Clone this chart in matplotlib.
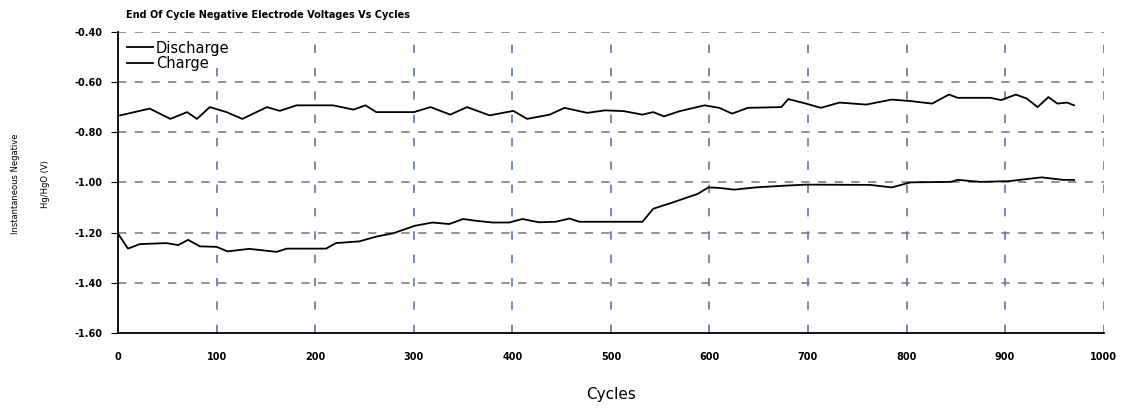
import numpy as np
import matplotlib.pyplot as plt

# Datos
ciclos_sup = [2, 32, 53, 70, 80, 93, 110, 126, 151, 164, 181, 201, 218, 239, 251, 262,
              300, 317, 337, 354, 377, 401, 415, 438, 453, 476, 494, 513, 532, 543, 554,
              569, 595, 610, 623, 639, 673, 680, 698, 713, 732, 759, 785, 804, 826, 843,
              852, 885, 896, 911, 922, 933, 944, 953, 963, 970]
volt_sup = [-0.733, -0.706, -0.747, -0.720, -0.747, -0.700, -0.720, -0.747, -0.700, -0.715,
            -0.693, -0.693, -0.693, -0.710, -0.693, -0.720, -0.720, -0.700, -0.730, -0.700,
            -0.733, -0.715, -0.747, -0.730, -0.703, -0.723, -0.713, -0.716, -0.730, -0.720,
            -0.737, -0.717, -0.693, -0.703, -0.726, -0.703, -0.700, -0.668, -0.686, -0.703,
            -0.682, -0.690, -0.670, -0.676, -0.686, -0.650, -0.663, -0.663, -0.672, -0.650,
            -0.666, -0.700, -0.660, -0.686, -0.682, -0.693]

ciclos_inf = [0, 10, 22, 49, 61, 71, 83, 100, 111, 133, 161, 171, 211, 221, 245, 262,
              279, 301, 319, 336, 350, 363, 380, 397, 410, 427, 444, 458, 468, 488, 532,
              543, 562, 588, 599, 610, 625, 647, 677, 698, 763, 785, 804, 845, 852, 875,
              904, 937, 959, 970]
volt_inf = [-1.205, -1.264, -1.246, -1.242, -1.250, -1.229, -1.255, -1.257, -1.275, -1.265,
            -1.277, -1.264, -1.264, -1.242, -1.235, -1.216, -1.203, -1.173, -1.160, -1.166,
            -1.146, -1.153, -1.160, -1.160, -1.146, -1.159, -1.157, -1.144, -1.157, -1.157,
            -1.157, -1.105, -1.081, -1.046, -1.020, -1.022, -1.029, -1.020, -1.013, -1.009,
            -1.010, -1.020, -1.000, -0.998, -0.990, -0.998, -0.995, -0.980, -0.990, -0.990]

yticks = [-0.40, -0.60, -0.80, -1.00, -1.20, -1.40, -1.60]
xticks = [0, 100, 200, 300, 400, 500, 600, 700, 800, 900, 1000]

fig = plt.figure(figsize=(11.25, 4.08), dpi=100)
ax = fig.add_axes([0.105, 0.184, 0.876, 0.738])

ax.plot(ciclos_sup, volt_sup, color='black', lw=1.3, label='Discharge')
ax.plot(ciclos_inf, volt_inf, color='black', lw=1.3, label='Charge')

ax.set_xlim(0, 1000)
ax.set_ylim(-1.60, -0.40)
ax.set_xticks(xticks)
ax.set_yticks(yticks)
ax.set_yticklabels([f'{v:.2f}' for v in yticks], fontsize=7, fontweight='bold')
ax.set_xticklabels([str(v) for v in xticks], fontsize=7, fontweight='bold')
ax.tick_params(axis='x', length=0, pad=14)
ax.tick_params(axis='y', length=5, direction='out', pad=6)

# Grilla punteada
for y in yticks[:-1]:
    ax.axhline(y, color='#7f7f7f', ls=(0, (5, 5)), lw=1.2, zorder=0)
for x in xticks[1:]:
    ax.axvline(x, color='#5a78a8', ls=(0, (5, 9)), lw=1.2, zorder=0)

for s in ['top', 'right']:
    ax.spines[s].set_visible(False)
ax.spines['left'].set_linewidth(1.3)
ax.spines['bottom'].set_linewidth(1.3)

ax.legend(loc='upper left', frameon=False, fontsize=10.5, handlelength=1.8,
          handletextpad=0.2, labelspacing=0.05, borderaxespad=0.2,
          bbox_to_anchor=(0.0, 1.0))

fig.text(0.112, 0.955, 'End Of Cycle Negative Electrode Voltages Vs Cycles',
         fontsize=7, fontweight='bold')
ax.set_xlabel('Cycles', fontsize=11, labelpad=18)
fig.text(0.014, 0.55, 'Instantaneous Negative', rotation=90, fontsize=6,
         ha='center', va='center')
fig.text(0.04, 0.55, 'Hg/HgO (V)', rotation=90, fontsize=6,
         ha='center', va='center')

plt.savefig('out.png', dpi=100)
